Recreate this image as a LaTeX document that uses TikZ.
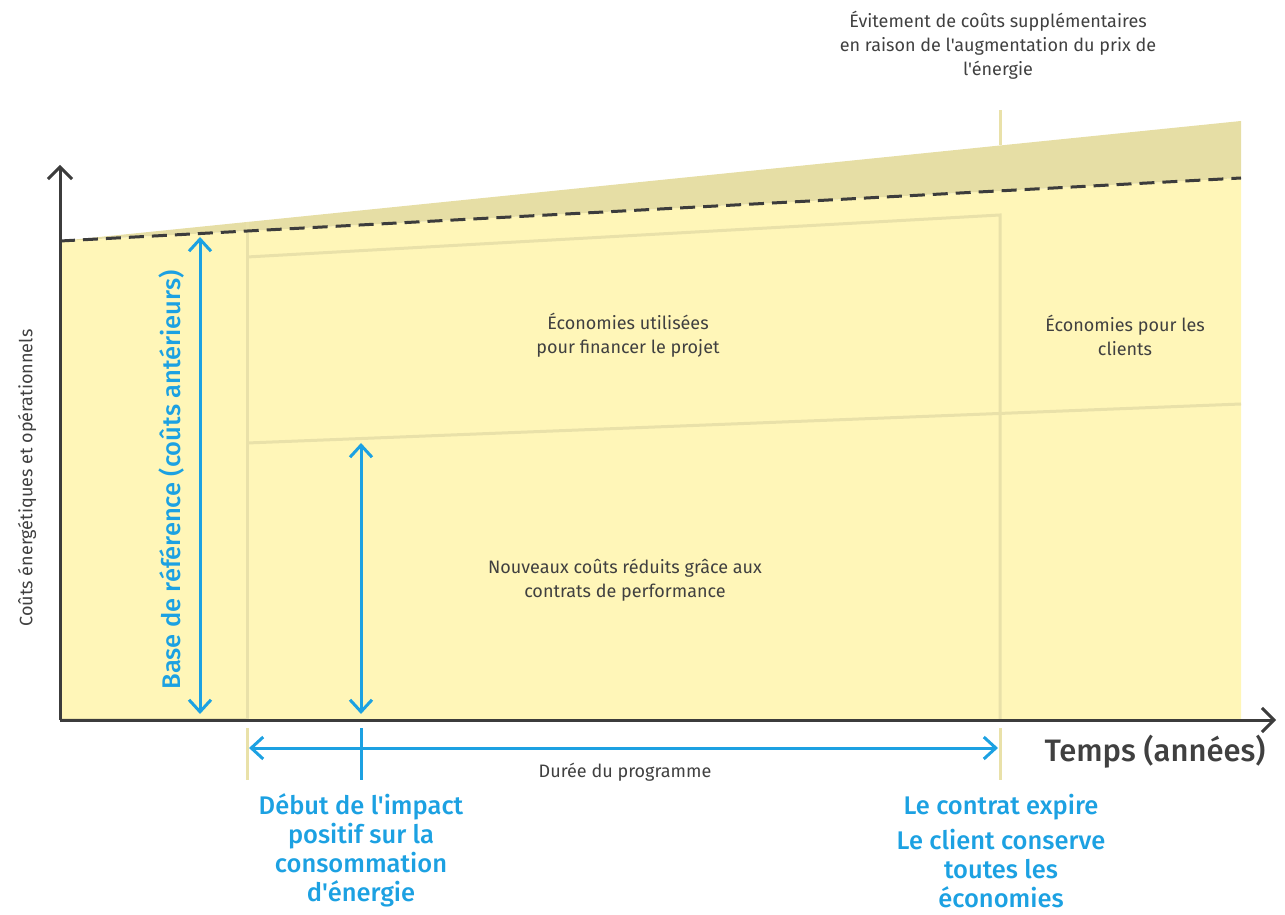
\documentclass[tikz,border=0pt]{standalone}
\usepackage{fontspec}
\setmainfont{Fira Sans}[BoldFont={Fira Sans Medium},Ligatures=TeXOff]
\usepackage{tikz}
\usetikzlibrary{arrows.meta}
\definecolor{paleyellow}{HTML}{FFF6B8}
\definecolor{khaki}{HTML}{E6DEA5}
\definecolor{edgekhaki}{HTML}{E9E1A9}
\definecolor{ecblue}{HTML}{1CA1E2}
\definecolor{axisgray}{HTML}{3C3C3C}
\definecolor{textgray}{HTML}{404040}

\begin{document}
\begin{tikzpicture}[x=1pt,y=1pt]
\tikzstyle{every node}+=[inner sep=0pt]
\tikzstyle{axis}=[axisgray, line width=3pt, -{Straight Barb[length=12pt,width=24pt,line width=3pt]}]
\tikzstyle{bluearrow}=[ecblue, line width=3pt, {Straight Barb[length=12pt,width=22pt,line width=3pt]}-{Straight Barb[length=12pt,width=22pt,line width=3pt]}]
\tikzstyle{edge}=[edgekhaki, line width=3pt]
\tikzstyle{small}=[textgray, align=center, font=\fontsize{18}{24}\selectfont]
\tikzstyle{bluetext}=[ecblue, align=center, font=\fontsize{25.5}{29}\selectfont\bfseries]
\useasboundingbox (0,0) rectangle (1285,914);
% points
\coordinate (O) at (60,194);
\coordinate (ytop) at (60,749);
\coordinate (xend) at (1276,194);
\coordinate (base0) at (60,673);
\coordinate (base1) at (1241,736);
\coordinate (top1) at (1241,793);
\coordinate (corner) at (1241,194);
\coordinate (start top) at (247,692);
\coordinate (start box) at (247,657);
\coordinate (start mid) at (247,471);
\coordinate (start low) at (247,194);
\coordinate (end top) at (1000,804);
\coordinate (end khaki) at (1000,769);
\coordinate (end box) at (1000,699);
\coordinate (end low) at (1000,194);
\coordinate (mid end) at (1241,510);
% areas
\fill [paleyellow] (O) -- (base0) -- (base1) -- (corner) -- cycle;
\fill [khaki] (base0) -- (top1) -- (base1) -- cycle;
\draw [edgekhaki, line width=1.5pt] (60,195) -- (247,195);
\draw [edge] (start top) -- (start low);
\draw [edge] (start box) -- (end box) -- (end low);
\draw [edge] (end top) -- (end khaki);
\draw [edge] (start mid) -- (mid end);
\draw [axisgray, line width=3pt, dash pattern=on 15pt off 8pt] (base0) -- (base1);
% axes
\draw [axis] (O) -- (ytop);
\draw [axis] (O) -- (xend);
% blue arrows
\coordinate (ref top) at (200,677);
\coordinate (ref low) at (200,200);
\coordinate (new top) at (361,471);
\coordinate (new low) at (361,200);
\coordinate (prog start) at (249,166);
\coordinate (prog end) at (998,166);
\draw [bluearrow] (ref top) -- (ref low);
\draw [bluearrow] (new top) -- (new low);
\draw [bluearrow] (prog start) -- (prog end);
\coordinate (tick a1) at (247,186);
\coordinate (tick a2) at (247,134);
\coordinate (tick b1) at (361,186);
\coordinate (tick b2) at (361,134);
\coordinate (tick c1) at (1000,186);
\coordinate (tick c2) at (1000,134);
\draw [edge] (tick a1) -- (tick a2);
\draw [ecblue, line width=3pt] (tick b1) -- (tick b2);
\draw [edge] (tick c1) -- (tick c2);
% labels
\node [small, rotate=90] (ylabel) at (27,436) {Coûts énergétiques et opérationnels};
\node [ecblue, rotate=90, font=\fontsize{25.5}{29}\selectfont\bfseries] (baseline) at (172,434) {Base de référence (coûts antérieurs)};
\node [small] (financing) at (628,579) {Économies utilisées\\pour financer le projet};
\node [small] (clients) at (1125,579) {Économies pour les\\clients};
\node [small] (newcosts) at (625,334) {Nouveaux coûts réduits grâce aux\\contrats de performance};
\node [small] (avoided) at (998,869) {Évitement de coûts supplémentaires\\en raison de l'augmentation du prix de\\l'énergie};
\node [textgray, font=\fontsize{31}{36}\selectfont\bfseries] (time) at (1155,162) {Temps (années)};
\node [small] (duration) at (625,142) {Durée du programme};
\node [bluetext] (impact) at (361,64) {Début de l'impact\\positif sur la\\consommation\\d'énergie};
\node [bluetext] (expire) at (1001,107) {Le contrat expire};
\node [bluetext] (keeps) at (1001,45) {Le client conserve\\toutes les\\économies};
\end{tikzpicture}
\end{document}
